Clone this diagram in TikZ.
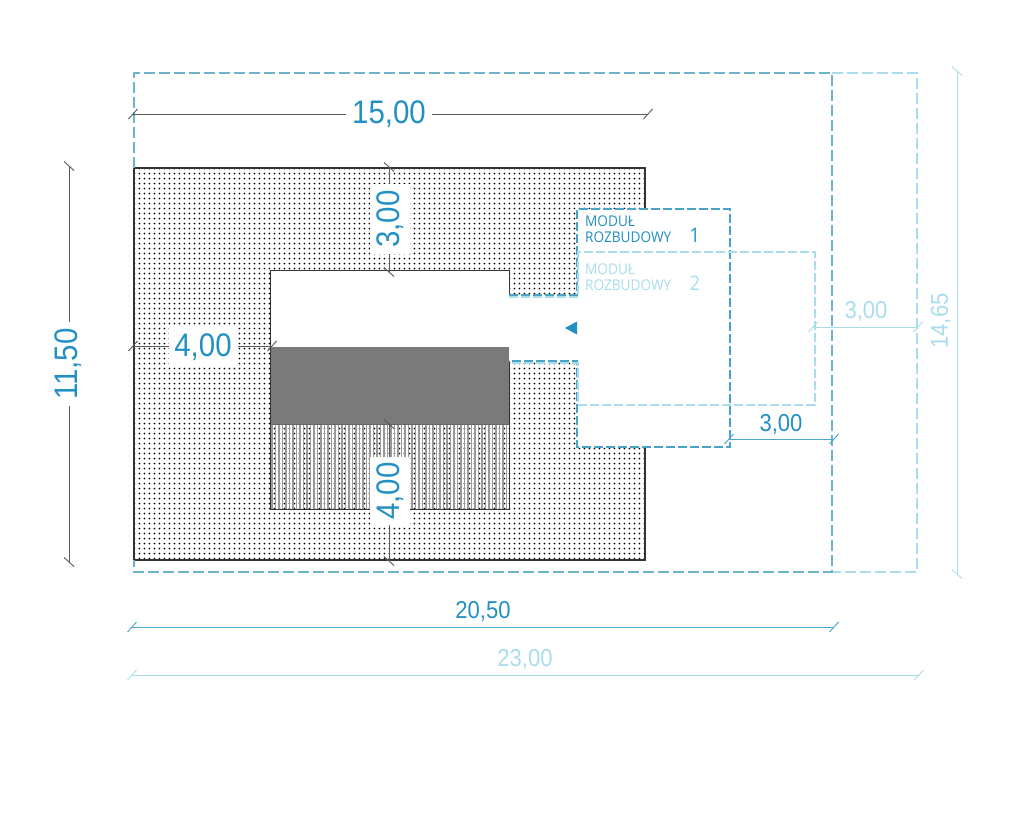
\documentclass[tikz,border=0pt]{standalone}
\usepackage{fontspec}
\setmainfont{Liberation Sans}
\newfontfamily\modulfont{Open Sans}
\usetikzlibrary{patterns.meta}
\definecolor{labelblue}{HTML}{2290C2}
\definecolor{lightblue}{HTML}{A9DDEC}
\definecolor{dashblue}{HTML}{6DB3CB}
\definecolor{moduleblue}{HTML}{4AA3C8}
\definecolor{dimgray}{HTML}{5A5A5A}
\tikzset{
    dim/.style={line width=.9pt},
    dimlabel/.style={font=\fontsize{#1}{#1}\selectfont,text=labelblue,inner sep=0pt,xscale=.92,yscale=1.02},
    whitebox/.style={fill=white,minimum width=#1,minimum height=40pt},
    hatchline/.style={line width=1.1pt,draw=gray!80},
    modullabel/.style={font=\modulfont\fontsize{14.8}{15.6}\selectfont,align=left,inner sep=0pt,anchor=north west,xscale=.92}
}
\begin{document}
\begin{tikzpicture}[x=1pt,y=-1pt]
        \useasboundingbox (0,0) rectangle (1024,817);
        % plot and house
        \draw[line width=1.2pt,draw=black!80,pattern={Dots[distance=5.4pt,radius=1.05pt]}] (134,168) rectangle (645,560);
        \fill[white] (270,270) rectangle (509,347);
        \fill[black!52] (270,347) rectangle (509,424);
        \foreach \x in {272,275.5,...,509} {
            \draw[hatchline] (\x,424) -- (\x,509);
        }
        \draw[line width=1pt,draw=black!80] (270,270) rectangle (509,509);
        \draw[line width=.6pt,draw=black!60] (270,424) -- (509,424);
        % plot extensions
        \draw[line width=1.3pt,dash pattern=on 11pt off 4pt,draw=lightblue] (832,73) -- (917,73) -- (917,572) -- (832,572);
        \draw[line width=1.3pt,dash pattern=on 11pt off 4pt,draw=dashblue] (134,168) -- (134,73) -- (832,73) -- (832,572) -- (134,572) -- (134,560);
        % modules
        \fill[white] (509,296) -- (577,296) -- (577,209) -- (730,209) -- (730,447) -- (577,447) -- (577,361) -- (509,361) -- cycle;
        \draw[line width=1.2pt,dash pattern=on 9pt off 3pt,draw=moduleblue] (509,295) -- (577,295) -- (577,209) -- (730,209) -- (730,447) -- (577,447) -- (577,361) -- (509,361);
        \draw[line width=1.2pt,dash pattern=on 9pt off 3pt,draw=lightblue] (509,297) -- (578,297) -- (578,252) -- (815,252) -- (815,405) -- (578,405) -- (578,363) -- (509,363);
        \fill[labelblue] (565,328) -- (577,321.5) -- (577,334.5) -- cycle;
        \node[modullabel,text=labelblue] (modul1) at (585,216) {MODUŁ\\ROZBUDOWY\hspace{20pt}{\fontsize{20}{15.6}\selectfont 1}};
        \node[modullabel,text=lightblue] (modul2) at (585,264) {MODUŁ\\ROZBUDOWY\hspace{20pt}{\fontsize{20}{15.6}\selectfont 2}};
        % dimension ends
        \coordinate (A) at (133,114);
        \coordinate (B) at (648,114);
        \coordinate (C) at (389,167);
        \coordinate (D) at (389,272);
        \coordinate (E) at (133,346);
        \coordinate (F) at (272,346);
        \coordinate (G) at (389,424);
        \coordinate (H) at (389,561);
        \coordinate (I) at (69,166);
        \coordinate (J) at (69,562);
        \coordinate (K) at (729,439);
        \coordinate (L) at (834,439);
        \coordinate (M) at (813,327);
        \coordinate (N) at (918,327);
        \coordinate (O) at (957,71);
        \coordinate (P) at (957,574);
        \coordinate (Q) at (132,627);
        \coordinate (R) at (834,627);
        \coordinate (S) at (132,675);
        \coordinate (T) at (919,675);
        \path [dim,draw=dimgray](A) edge (B);
        \path [dim,draw=dimgray](C) edge (D);
        \path [dim,draw=dimgray](E) edge (F);
        \path [dim,draw=dimgray](G) edge (H);
        \path [dim,draw=dimgray](I) edge (J);
        \path [dim,draw=moduleblue](K) edge (L);
        \path [dim,draw=lightblue](M) edge (N);
        \path [dim,draw=lightblue](O) edge (P);
        \path [dim,draw=moduleblue](Q) edge (R);
        \path [dim,draw=lightblue](S) edge (T);
        % ticks
        \foreach \p/\c in {A/dimgray,B/dimgray,E/dimgray,F/dimgray,K/moduleblue,L/moduleblue,M/lightblue,N/lightblue,Q/moduleblue,R/moduleblue,S/lightblue,T/lightblue} {
            \draw[dim,draw=\c] ([xshift=-4.5pt,yshift=-5pt]\p) -- ([xshift=4.5pt,yshift=5pt]\p);
        }
        \foreach \p/\c in {C/dimgray,D/dimgray,G/dimgray,H/dimgray,I/dimgray,J/dimgray,O/lightblue,P/lightblue} {
            \draw[dim,draw=\c] ([xshift=-5pt,yshift=4.5pt]\p) -- ([xshift=5pt,yshift=-4.5pt]\p);
        }
        % dimension labels
        \node[dimlabel=32,whitebox=93pt] (l15) at (389,114) {15,00};
        \node[rotate=90,dimlabel=32,whitebox=76pt] (l3top) at (390,219) {3,00};
        \node[dimlabel=32,whitebox=75pt] (l4left) at (203,347) {4,00};
        \node[rotate=90,dimlabel=32,whitebox=74pt] (l4low) at (390,491) {4,00};
        \node[rotate=90,dimlabel=32,whitebox=91pt] (l1150) at (68,364) {11,50};
        \node[dimlabel=24] (l3mid) at (781,425) {3,00};
        \node[dimlabel=24,text=lightblue] (l3right) at (866,312) {3,00};
        \node[rotate=90,dimlabel=24,text=lightblue] (l1465) at (941,321) {14,65};
        \node[dimlabel=24] (l2050) at (483,612) {20,50};
        \node[dimlabel=24,text=lightblue] (l2300) at (525,660) {23,00};
    \end{tikzpicture}
\end{document}
